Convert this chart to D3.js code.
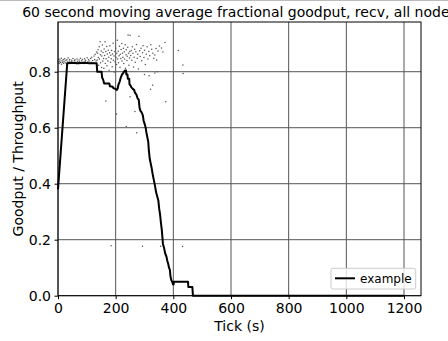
<!DOCTYPE html>
<html>
<head>
<meta charset="utf-8">
<script src="https://cdn.jsdelivr.net/npm/d3@7"></script>
<style>
  html, body { margin: 0; padding: 0; background: #fff; }
  svg { display: block; font-family: "DejaVu Sans", sans-serif; }
</style>
</head>
<body>
<svg id="chart" width="448" height="341"></svg>
<script>
// 60 s moving average of fractional goodput (line)
const avgTick = [0, 32, 50, 70, 90, 110, 134, 136, 151, 153, 157, 160, 178, 180, 190, 192, 197, 200, 204, 207, 210, 214, 218, 222, 226, 229, 232, 236, 237, 241, 242, 247, 248, 252, 254, 260, 264, 267, 272, 276, 280, 283, 286, 290, 294, 297, 301, 304, 307, 310, 313, 315, 318, 321, 325, 329, 333, 336, 340, 344, 348, 351, 354, 357, 360, 362, 364, 368, 372, 376, 379, 382, 385, 388, 390, 393, 396, 399, 401, 402, 451, 452, 466, 468, 1199];
const avgValue = [0.38, 0.83, 0.832, 0.83, 0.832, 0.83, 0.83, 0.80, 0.80, 0.78, 0.77, 0.758, 0.758, 0.748, 0.746, 0.741, 0.74, 0.738, 0.735, 0.74, 0.755, 0.765, 0.78, 0.79, 0.795, 0.80, 0.804, 0.804, 0.79, 0.79, 0.775, 0.775, 0.755, 0.75, 0.745, 0.738, 0.735, 0.725, 0.718, 0.705, 0.70, 0.67, 0.66, 0.655, 0.645, 0.625, 0.612, 0.60, 0.58, 0.565, 0.55, 0.52, 0.49, 0.475, 0.455, 0.43, 0.41, 0.395, 0.37, 0.355, 0.34, 0.31, 0.29, 0.26, 0.235, 0.21, 0.185, 0.17, 0.15, 0.14, 0.125, 0.115, 0.10, 0.092, 0.07, 0.055, 0.05, 0.04, 0.04, 0.05, 0.05, 0.031, 0.031, 0, 0];

// per-sample fractional goodput (scatter)
const sampleTick = [0, 1, 3, 4, 6, 7, 9, 11, 12, 14, 16, 18, 19, 21, 23, 25, 27, 29, 31, 33, 35, 37, 39, 41, 44, 46, 48, 50, 52, 55, 57, 59, 62, 64, 66, 68, 71, 73, 75, 78, 80, 82, 85, 87, 89, 92, 94, 96, 99, 101, 103, 106, 108, 110, 113, 115, 117, 120, 122, 125, 127, 129, 132, 134,
  136, 137, 139, 140, 141, 143, 144, 146, 147, 148, 150, 151, 152, 154, 155, 156, 158, 159, 160, 162, 163, 164, 166, 167, 169, 170, 171, 173, 174, 176, 177, 179, 180, 182, 183, 185, 186, 188, 189, 191, 192, 194, 195, 197, 198, 200, 201, 203, 204, 206, 207, 209, 210, 212, 213, 215, 216, 218, 219, 221, 222, 224, 225, 227, 228, 230, 231, 233, 234, 236, 237, 239, 240, 242, 243, 245, 246, 248, 249,
  250, 252, 254, 256, 258, 260, 262, 264, 266, 268, 270, 272, 275, 277, 279, 281, 283, 285, 288, 290, 293, 295, 298, 300, 303, 306, 309, 312, 315, 318, 322, 325, 329, 332, 336, 340, 342, 347, 352, 359, 364, 371,
  300, 316, 336, 345,
  166, 184, 203, 237, 250, 267, 273, 293, 321, 328, 356, 374, 417, 432, 433, 434];
const sampleValue = [0.838, 0.831, 0.845, 0.829, 0.836, 0.842, 0.833, 0.848, 0.827, 0.839, 0.834, 0.844, 0.830, 0.837, 0.846, 0.832, 0.840, 0.828, 0.843, 0.835, 0.849, 0.831, 0.838, 0.844, 0.829, 0.836, 0.841, 0.833, 0.847, 0.830, 0.839, 0.843, 0.834, 0.828, 0.845, 0.837, 0.832, 0.842, 0.836, 0.848, 0.831, 0.839, 0.844, 0.833, 0.829, 0.846, 0.837, 0.841, 0.832, 0.850, 0.835, 0.843, 0.838, 0.829, 0.847, 0.834, 0.852, 0.840, 0.831, 0.856, 0.844, 0.862, 0.838, 0.870,
  0.842, 0.866, 0.878, 0.851, 0.823, 0.889, 0.845, 0.907, 0.861, 0.832, 0.874, 0.815, 0.856, 0.895, 0.838, 0.869, 0.847, 0.812, 0.881, 0.858, 0.907, 0.829, 0.872, 0.846, 0.890, 0.821, 0.863, 0.838, 0.877, 0.852, 0.805, 0.868, 0.893, 0.834, 0.859, 0.846, 0.876, 0.818, 0.863, 0.902, 0.841, 0.856, 0.799, 0.872, 0.836, 0.884, 0.851, 0.826, 0.866, 0.912, 0.845, 0.873, 0.832, 0.857, 0.891, 0.816, 0.862, 0.847, 0.879, 0.901, 0.838, 0.866, 0.852, 0.884, 0.829, 0.871, 0.845, 0.896, 0.812, 0.861, 0.878, 0.840, 0.855, 0.887, 0.931, 0.866, 0.823, 0.849, 0.872,
  0.930, 0.858, 0.876, 0.841, 0.889, 0.866, 0.817, 0.852, 0.880, 0.834, 0.871, 0.897, 0.848, 0.862, 0.810, 0.927, 0.875, 0.854, 0.884, 0.839, 0.868, 0.893, 0.851, 0.877, 0.826, 0.862, 0.889, 0.845, 0.872, 0.857, 0.896, 0.880, 0.866, 0.848, 0.860, 0.883, 0.842, 0.874, 0.892, 0.885, 0.870, 0.904,
  0.790, 0.786, 0.795, 0.800,
  0.695, 0.178, 0.649, 0.604, 0.711, 0.658, 0.582, 0.177, 0.737, 0.752, 0.177, 0.693, 0.876, 0.176, 0.824, 0.794];

const xTicks = [0, 200, 400, 600, 800, 1000, 1200];
const yTicks = [0.0, 0.2, 0.4, 0.6, 0.8];
const titleText = "60 second moving average fractional goodput, recv, all nodes";
const xLabel = "Tick (s)";
const yLabel = "Goodput / Throughput";
const seriesName = "example";

const W = 448, H = 341;
const margin = { top: 22, right: 27, bottom: 45.3, left: 58 };
const iw = W - margin.left - margin.right;
const ih = H - margin.top - margin.bottom;

const svg = d3.select("#chart");

// top frame edge of the figure
svg.append("line").attr("x1", 0).attr("x2", W).attr("y1", 0.5).attr("y2", 0.5)
  .attr("stroke", "#bbb").attr("stroke-width", 1);

const g = svg.append("g").attr("transform", `translate(${margin.left},${margin.top})`);

const yMaxData = d3.max(sampleValue);
const xMaxData = d3.max(avgTick);
const x = d3.scaleLinear().domain([0, xMaxData * 1.05]).range([0, iw]);
const y = d3.scaleLinear().domain([0, yMaxData * 1.05]).range([ih, 0]);

// grid
g.append("g").selectAll("line").data(xTicks).join("line")
  .attr("x1", d => x(d)).attr("x2", d => x(d)).attr("y1", 0).attr("y2", ih)
  .attr("stroke", "#555").attr("stroke-width", 1);
g.append("g").selectAll("line").data(yTicks).join("line")
  .attr("x1", 0).attr("x2", iw).attr("y1", d => y(d)).attr("y2", d => y(d))
  .attr("stroke", "#555").attr("stroke-width", 1);

// scatter samples
g.append("g").selectAll("circle").data(sampleTick.map((t, i) => [t, sampleValue[i]])).join("circle")
  .attr("cx", d => x(d[0])).attr("cy", d => y(d[1])).attr("r", 0.75)
  .attr("fill", "#555");

// moving average line
const line = d3.line().x(d => x(d[0])).y(d => y(d[1]));
g.append("path").datum(avgTick.map((t, i) => [t, avgValue[i]]))
  .attr("d", line).attr("fill", "none").attr("stroke", "#000")
  .attr("stroke-width", 2).attr("stroke-linejoin", "round");

// axes
const xAxis = d3.axisBottom(x).tickValues(xTicks).tickSize(3.5).tickPadding(3.5).tickFormat(d3.format("d"));
const yAxis = d3.axisLeft(y).tickValues(yTicks).tickSize(3.5).tickPadding(3.5).tickFormat(d3.format(".1f"));
const gx = g.append("g").attr("transform", `translate(0,${ih})`).call(xAxis);
const gy = g.append("g").call(yAxis);
[gx, gy].forEach(a => {
  a.select(".domain").remove();
  a.selectAll("line").attr("stroke", "#000");
  a.selectAll("text").attr("fill", "#000").style("font-size", "14px").style("font-family", "DejaVu Sans");
});

// frame
g.append("rect").attr("x", 0).attr("y", 0).attr("width", iw).attr("height", ih)
  .attr("fill", "none").attr("stroke", "#000").attr("stroke-width", 1);

// legend
const lg = g.append("g").attr("transform", `translate(${331 - margin.left},${268.3 - margin.top})`);
lg.append("rect").attr("width", 84.7).attr("height", 20.7).attr("rx", 2)
  .attr("fill", "#fff").attr("fill-opacity", 0.8).attr("stroke", "#ccc");
lg.append("line").attr("x1", 4).attr("x2", 24).attr("y1", 10).attr("y2", 10)
  .attr("stroke", "#000").attr("stroke-width", 2);
lg.append("text").attr("x", 29).attr("y", 14.3).text(seriesName)
  .style("font-size", "12px").attr("fill", "#000");

// titles
svg.append("text").attr("x", margin.left + iw / 2).attr("y", 16.7)
  .attr("text-anchor", "middle").style("font-size", "14px").text(titleText);
svg.append("text").attr("x", margin.left + iw / 2).attr("y", 330.5)
  .attr("text-anchor", "middle").style("font-size", "14px").text(xLabel);
svg.append("text").attr("transform", `translate(22.5,${margin.top + ih / 2}) rotate(-90)`)
  .attr("text-anchor", "middle").style("font-size", "14px").text(yLabel);
</script>
</body>
</html>
